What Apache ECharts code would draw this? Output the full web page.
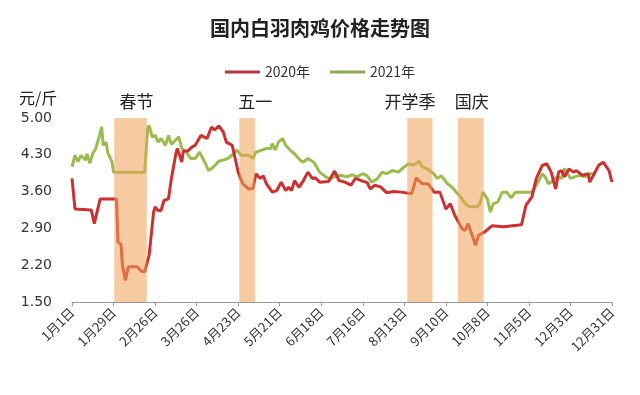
<!DOCTYPE html>
<html><head><meta charset="utf-8">
<script src="https://cdn.jsdelivr.net/npm/echarts@6/dist/echarts.min.js"></script>
<style>html,body{margin:0;padding:0;background:#fff}#c{width:640px;height:395px}</style>
</head><body><div id="c"></div>
<script>
var tickLabels = ['1月1日','1月29日','2月26日','3月26日','4月23日','5月21日','6月18日','7月16日','8月13日','9月10日','10月8日','11月5日','12月3日','12月31日'];
var yTicks = [1.5, 2.2, 2.9, 3.6, 4.3, 5.0];
var seriesNames = ['2020年', '2021年'];

var days2020 = [0,2,13,15,19,30,31,33,34,36,38,44,47,49,52,55,56,58,60,62,65,67,70,71,74,75,78,81,83,87,91,94,96,99,102,104,108,110,112,115,119,122,124,127,129,131,135,138,141,144,146,148,150,153,156,159,162,164,167,173,177,180,184,188,191,195,199,201,204,208,212,217,222,229,232,236,240,244,248,252,255,258,263,265,267,272,274,278,283,291,300,303,306,310,313,317,320,323,326,328,330,332,335,338,340,344,348,349,352,355,358,362,364];
var price2020 = [3.85,3.27,3.25,2.99,3.46,3.46,2.64,2.60,2.20,1.91,2.17,2.17,2.08,2.08,2.39,3.21,3.31,3.24,3.24,3.43,3.46,3.85,4.32,4.42,4.16,4.37,4.37,4.45,4.48,4.67,4.61,4.83,4.77,4.85,4.73,4.54,4.48,4.23,3.97,3.75,3.65,3.66,3.94,3.85,3.90,3.75,3.59,3.62,3.78,3.62,3.68,3.62,3.81,3.68,3.81,3.97,3.85,3.86,3.78,3.79,3.99,3.81,3.78,3.72,3.85,3.81,3.77,3.65,3.72,3.69,3.58,3.60,3.59,3.56,3.86,3.75,3.75,3.59,3.59,3.27,3.37,3.15,2.89,2.86,2.99,2.58,2.77,2.83,2.95,2.93,2.96,2.97,3.34,3.50,3.85,4.10,4.13,3.97,3.65,3.97,4.00,3.88,4.03,3.97,4.00,3.91,3.94,3.78,3.94,4.10,4.16,4.00,3.78];

var days2021 = [0,2,4,6,9,10,12,14,16,18,20,21,23,24,27,28,49,51,52,54,56,58,60,63,65,67,72,74,77,80,83,86,90,92,95,99,102,105,109,111,114,119,122,124,128,131,134,135,137,139,142,144,147,150,154,156,159,163,167,171,173,181,185,189,192,196,199,202,206,209,212,216,220,224,227,230,234,236,239,244,246,249,253,256,260,262,265,268,273,275,277,280,282,284,287,290,293,296,299,310,313,317,319,321,323,327,330,332,336,339,342,346,349,353];
var price2021 = [4.07,4.29,4.17,4.29,4.20,4.32,4.14,4.32,4.42,4.61,4.83,4.48,4.54,4.35,4.16,3.97,3.97,4.80,4.86,4.64,4.67,4.54,4.61,4.48,4.67,4.50,4.64,4.42,4.35,4.23,4.23,4.35,4.13,4.00,4.06,4.18,4.20,4.23,4.32,4.39,4.29,4.29,4.23,4.35,4.39,4.42,4.42,4.51,4.39,4.54,4.61,4.48,4.39,4.32,4.19,4.16,4.23,4.16,3.97,3.88,3.85,3.91,3.88,3.92,3.88,3.94,3.90,3.78,3.85,3.97,3.94,4.00,3.97,4.07,4.13,4.10,4.18,4.07,4.04,3.94,3.85,3.90,3.75,3.69,3.56,3.50,3.37,3.31,3.31,3.37,3.59,3.46,3.21,3.37,3.40,3.59,3.59,3.48,3.59,3.59,3.72,3.94,3.88,3.75,3.78,3.88,3.85,4.04,3.85,3.88,3.91,3.88,3.94,3.94];

var bandNames = ['春节', '五一', '开学季', '国庆'];
var bandStart = [28.5, 112.8, 226, 260];
var bandEnd = [50.4, 123.4, 243, 277.5];

function pairs(d, v) { return d.map(function (x, i) { return [x, v[i]]; }); }

var labelOffsets = [[6,0],[8,0],[-10,0],[1,0]];
var bands = bandNames.map(function (n, i) {
  return [{ xAxis: bandStart[i], name: n, label: { offset: labelOffsets[i] } }, { xAxis: bandEnd[i] }];
});

var chart = echarts.init(document.getElementById('c'), null, { renderer: 'canvas' });
chart.setOption({
  animation: false,
  backgroundColor: '#ffffff',
  title: {
    text: '国内白羽肉鸡价格走势图', left: 'center', top: 13,
    textStyle: { fontSize: 20, fontWeight: 'bold', color: '#222', fontFamily: 'Noto Sans CJK SC' }
  },
  legend: {
    top: 60, left: 'center',
    data: seriesNames, icon: 'rect', itemWidth: 35, itemHeight: 3, itemGap: 20,
    textStyle: { fontSize: 14, color: '#333', fontFamily: 'Noto Sans CJK SC' }
  },
  graphic: [{
    type: 'text', left: 19, top: 90,
    style: { text: '元/斤', fontSize: 16, fill: '#222', fontFamily: 'Noto Sans CJK SC' }
  }],
  grid: { left: 72, right: 28, top: 118, bottom: 93 },
  xAxis: {
    type: 'value', min: 0, max: 364, interval: 28,
    axisLine: { lineStyle: { color: '#999' } },
    axisTick: { show: true, length: 4, lineStyle: { color: '#999' } },
    splitLine: { show: false },
    axisLabel: {
      rotate: 45, fontSize: 13, color: '#333', margin: 8, fontFamily: 'Noto Sans CJK SC',
      formatter: function (v) { return tickLabels[Math.round(v / 28)]; }
    }
  },
  yAxis: {
    type: 'value', min: yTicks[0], max: yTicks[yTicks.length - 1], interval: 0.7,
    axisLine: { show: false }, axisTick: { show: false }, splitLine: { show: false },
    axisLabel: {
      fontSize: 14, color: '#333', margin: 20, fontFamily: 'DejaVu Sans',
      formatter: function (v) { return v.toFixed(2); }
    }
  },
  series: [
    {
      name: seriesNames[0], type: 'line', data: pairs(days2020, price2020),
      showSymbol: false, z: 3, color: '#b0393b',
      lineStyle: { width: 3, color: '#cc3131' }
    },
    {
      name: seriesNames[1], type: 'line', data: pairs(days2021, price2021),
      showSymbol: false, z: 2, color: '#8fa857',
      lineStyle: { width: 3, color: '#9cbb4e' }
    },
    {
      name: 'bands', type: 'line', data: [], zlevel: 1, z: 5,
      markArea: {
        silent: true, z: 10,
        itemStyle: { color: 'rgba(240,160,85,0.55)' },
        label: { show: true, position: 'top', distance: 8, fontSize: 17, color: '#222', fontFamily: 'Noto Sans CJK SC' },
        data: bands
      }
    }
  ]
});
</script></body></html>
